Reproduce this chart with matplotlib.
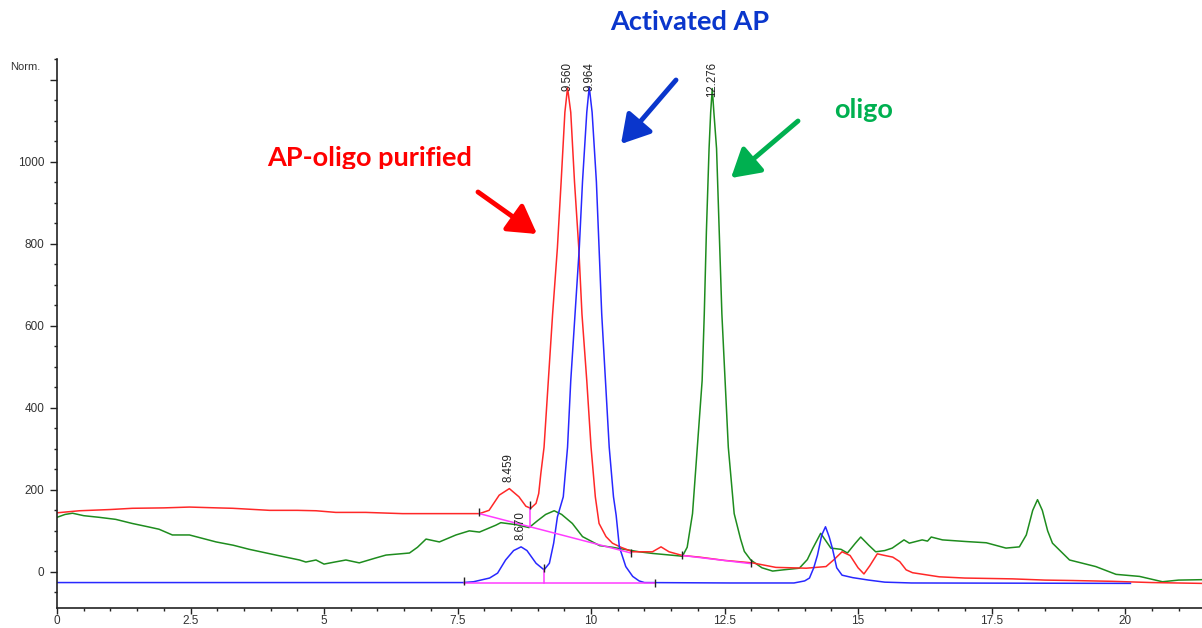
import matplotlib
matplotlib.use("Agg")
import matplotlib.pyplot as plt
from matplotlib.transforms import Bbox

plt.rcParams['font.family'] = ['Liberation Sans', 'DejaVu Sans']

# --- data (time in min, signal in Norm.) ---
red_t = [0, 0.42, 1.0, 1.41, 2.0, 2.48, 3.0, 3.29, 3.98, 4.5, 4.85, 5.22, 5.78, 6.47, 7.28, 7.91,
         8.09, 8.28, 8.47, 8.65, 8.78, 8.87, 8.97, 9.02, 9.06, 9.12, 9.2, 9.28, 9.37, 9.44, 9.51,
         9.56, 9.62, 9.69, 9.77, 9.83, 9.92, 10.0, 10.08, 10.15, 10.28, 10.4, 10.56, 10.78, 11.15,
         11.31, 11.46, 11.71, 12.03, 12.5, 13.02, 13.46, 14.03, 14.4, 14.55, 14.7, 14.85, 15.0,
         15.11, 15.22, 15.36, 15.5, 15.65, 15.78, 15.9, 16.02, 16.52, 17.0, 17.89, 18.5, 19.0,
         19.76, 20.5, 21.43]
red_y = [144, 149, 152, 155, 156, 158, 156, 155, 150, 150, 149, 145, 145, 142, 142, 142,
         150, 187, 203, 183, 160, 155, 167, 191, 240, 304, 466, 628, 790, 951, 1120,
         1180, 1120, 951, 790, 628, 466, 304, 183, 118, 86, 70, 60, 49, 49,
         61, 49, 40, 36, 28, 22, 11, 9, 13, 30, 49, 40, 10,
         -5, 15, 44, 40, 36, 25, 5, -2, -12, -15, -17, -20, -21,
         -23, -26, -28]

blue_t = [0, 7.6, 7.8, 8.0, 8.1, 8.25, 8.4, 8.55, 8.69, 8.8, 8.97, 9.12, 9.22, 9.3, 9.37, 9.48,
          9.56, 9.62, 9.70, 9.78, 9.84, 9.92, 9.966, 10.02, 10.1, 10.15, 10.2, 10.27, 10.34,
          10.42, 10.47, 10.53, 10.65, 10.78, 10.9, 11.0, 12.6, 13.8, 14.0, 14.09, 14.17, 14.24,
          14.32, 14.39, 14.46, 14.52, 14.6, 14.7, 14.9, 15.2, 15.5, 16.0, 20.1]
blue_y = [-26, -26, -24, -18, -15, -3, 29, 52, 61, 52, 21, 5, 21, 70, 134, 183,
          304, 466, 628, 790, 951, 1120, 1182, 1120, 951, 790, 628, 466, 304,
          183, 138, 61, 13, -11, -22, -26, -27, -27, -22, -15, 10, 41,
          90, 110, 85, 57, 10, -8, -14, -20, -25, -27, -28]

green_t = [0, 0.15, 0.29, 0.5, 0.79, 1.1, 1.41, 1.7, 1.91, 2.16, 2.48, 2.98, 3.3, 3.6, 4.1, 4.54,
           4.66, 4.85, 5.0, 5.2, 5.41, 5.66, 5.97, 6.16, 6.6, 6.75, 6.91, 7.16, 7.47, 7.72, 7.91,
           8.22, 8.31, 8.6, 8.84, 9.0, 9.15, 9.31, 9.45, 9.65, 9.84, 10.16, 10.4, 10.53, 10.9,
           11.15, 11.65, 11.71, 11.8, 11.9, 11.99, 12.08, 12.12, 12.16, 12.21, 12.24, 12.27,
           12.3, 12.35, 12.4, 12.45, 12.51, 12.57, 12.68, 12.8, 12.87, 12.99, 13.2, 13.4, 13.6,
           13.9, 14.05, 14.15, 14.3, 14.4, 14.49, 14.68, 14.8, 14.95, 15.05, 15.2, 15.33, 15.5,
           15.64, 15.86, 15.96, 16.2, 16.3, 16.37, 16.58, 17.02, 17.4, 17.77, 18.02, 18.15,
           18.27, 18.36, 18.45, 18.55, 18.64, 18.96, 19.45, 19.83, 20.27, 20.7, 21.0, 21.43]
green_y = [133, 140, 143, 137, 133, 128, 118, 110, 104, 90, 90, 73, 65, 55, 41, 29,
           24, 29, 19, 24, 29, 22, 34, 41, 46, 60, 80, 73, 90, 100, 97,
           114, 120, 115, 108, 125, 140, 149, 140, 118, 86, 64, 60, 57, 49,
           45, 39, 38, 60, 142, 304, 466, 628, 830, 1032, 1120, 1178,
           1120, 1032, 830, 628, 466, 304, 142, 80, 50, 29, 10, 2, 5,
           9, 30, 57, 94, 75, 58, 55, 46, 70, 85, 65, 49, 52,
           58, 78, 70, 78, 75, 85, 78, 74, 71, 58, 61, 90,
           150, 176, 150, 100, 70, 29, 13, -6, -11, -24, -20, -19]

# integration baselines / drop lines (x0, y0, x1, y1)
base_lines = [(7.91, 142, 10.75, 46), (8.85, 155, 8.85, 110), (11.71, 40, 13.0, 20),
              (7.62, -26, 11.2, -26), (9.12, 5, 9.12, -26)]
tick_t = [7.91, 8.85, 10.75, 11.71, 13.0, 7.62, 9.12, 11.2]
tick_y = [146, 162, 46, 40, 22, -22, 10, -26]

peak_t = [8.459, 8.670, 9.560, 9.964, 12.276]
peak_h = [203, 61, 1180, 1182, 1178]
peak_lbl = ["8.459", "8.670", "9.560", "9.964", "12.276"]

xtick_pos = [0, 2.5, 5, 7.5, 10, 12.5, 15, 17.5, 20]
xtick_lbl = ["0", "2.5", "5", "7.5", "10", "12.5", "15", "17.5", "20"]
ytick_pos = [0, 200, 400, 600, 800, 1000, 1200]
ytick_lbl = ["0", "200", "400", "600", "800", "1000", ""]

W, H = 1202, 628
fig = plt.figure(figsize=(W / 100, H / 100), dpi=100)
ax = fig.add_axes([57 / W, 20 / H, (W - 57) / W, (608 - 59) / H])

ax.plot(green_t, green_y, color='#1e8c1e', lw=1.1)
ax.plot(red_t, red_y, color='#ff2828', lw=1.1)
ax.plot(blue_t, blue_y, color='#2828ff', lw=1.1)
for x0, y0, x1, y1 in base_lines:
    ax.plot([x0, x1], [y0, y1], color='#ff3cff', lw=1.1)
ax.plot(tick_t, tick_y, ls='none', marker='|', ms=6, mew=1.0, color='#222222')

for t, h, s in zip(peak_t, peak_h, peak_lbl):
    if h > 1000:
        ax.text(t, 1243, s, rotation=90, ha='center', va='top', fontsize=8.3, color='#222222')
    else:
        ax.text(t, h + 16, s, rotation=90, ha='center', va='bottom', fontsize=8.3, color='#222222')

ax.set_xlim(0, 21.44)
ax.set_ylim(-88, 1244)
ax.set_xticks(xtick_pos)
ax.set_xticklabels(xtick_lbl)
ax.set_xticks([i * 0.5 for i in range(43)], minor=True)
ax.set_yticks(ytick_pos)
ax.set_yticklabels(ytick_lbl)
ax.set_yticks([-50 + i * 50 for i in range(27)], minor=True)
ax.tick_params(which='major', length=5, width=1, color='#222222', labelsize=8.5,
               labelcolor='#333333', pad=4)
ax.tick_params(axis='x', which='major', length=4, pad=1)
ax.tick_params(which='minor', length=2.5, width=1, color='#222222')
for s in ['top', 'right']:
    ax.spines[s].set_visible(False)
for s in ['left', 'bottom']:
    ax.spines[s].set_linewidth(1.2)
    ax.spines[s].set_color('#222222')

fig.text(10 / W, 1 - 67 / H, "Norm.", fontsize=8, color='#333333', va='center', ha='left')

# labels and arrows (figure pixel positions)
fig.text(690 / W, 1 - 22 / H, "Activated AP", fontsize=19.5, fontweight='bold',
         family='Lato', color='#0a36cc', ha='center', va='center')
fig.text(864 / W, 1 - 110 / H, "oligo", fontsize=19.5, fontweight='bold',
         family='Lato', color='#00b050', ha='center', va='center')
t = fig.text(370 / W, 1 - 166 / H, "AP-oligo purified", fontsize=19.5, fontweight='bold',
             family='Lato', color='#ff0000', ha='center', va='baseline')
t.set_clip_box(Bbox([[0, H - 169], [W, H]]))
t.set_clip_on(True)

arrows = [((478, 192), (537, 234), '#ff0000'),
          ((676, 80), (621, 144), '#0a36cc'),
          ((798, 121), (731, 178), '#00b050')]
for (x0, y0), (x1, y1), c in arrows:
    ax.annotate('', xy=(x1, H - y1), xytext=(x0, H - y0), xycoords='figure pixels',
                textcoords='figure pixels',
                arrowprops=dict(arrowstyle='-|>,head_length=0.85,head_width=0.5', lw=3.5,
                                color=c, shrinkA=0, shrinkB=0, mutation_scale=20))

fig.savefig("out.png", dpi=100)
